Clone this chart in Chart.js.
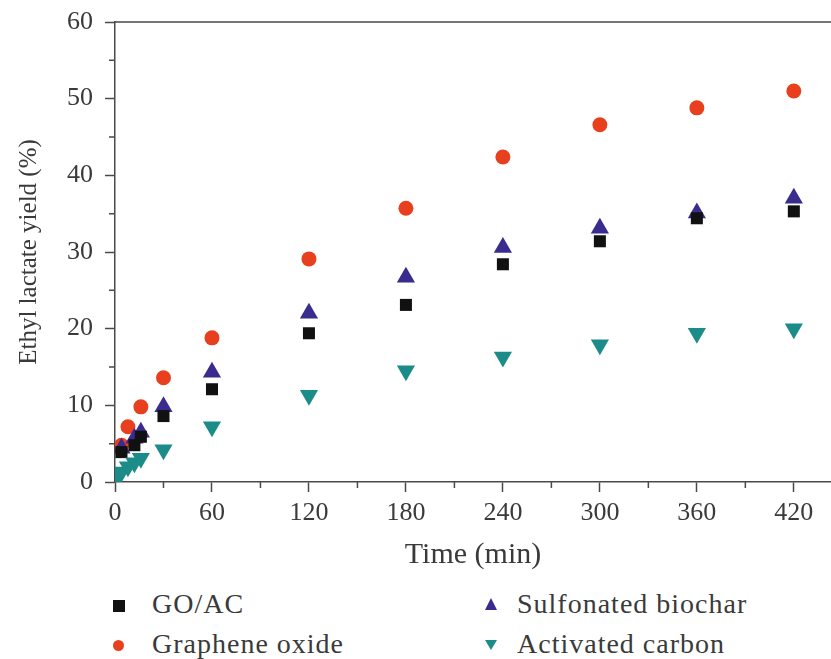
<!DOCTYPE html>
<html>
<head>
<meta charset="utf-8">
<script src="https://cdn.jsdelivr.net/npm/chart.js@4.4.1/dist/chart.umd.min.js"></script>
<style>
body { margin: 0; background: #fff; font-family: "Liberation Serif", serif; }
#wrap { position: relative; width: 831px; height: 659px; overflow: hidden; }
#c { position: absolute; left: 0; top: 0; }
.lbl { position: absolute; font-size: 28px; letter-spacing: 1px; color: #3a3a3a; line-height: 1; white-space: nowrap; }
.mk { position: absolute; }
</style>
</head>
<body>
<div id="wrap">
  <canvas id="c" width="831" height="573"></canvas>
  <div class="mk" style="left:113px;top:600px;width:12px;height:12px;background:#111;"></div>
  <div class="lbl" style="left:152px;top:590px;">GO/AC</div>
  <div class="mk" style="left:113px;top:640px;width:11px;height:11px;border-radius:50%;background:#e8401e;"></div>
  <div class="lbl" style="left:152px;top:630px;">Graphene oxide</div>
  <div class="mk" style="left:485px;top:598px;width:0;height:0;border-left:6px solid transparent;border-right:6px solid transparent;border-bottom:12px solid #3a2b8e;"></div>
  <div class="lbl" style="left:517px;top:590px;">Sulfonated biochar</div>
  <div class="mk" style="left:485px;top:640px;width:0;height:0;border-left:6px solid transparent;border-right:6px solid transparent;border-top:10px solid #1b8c88;"></div>
  <div class="lbl" style="left:517px;top:630px;">Activated carbon</div>
</div>
<script>
// reaction time (min) and ethyl lactate yield (%)
const times = [2, 4, 8, 12, 16, 30, 60, 120, 180, 240, 300, 360, 420];
const goac = [null, 3.9, null, 4.8, 5.9, 8.6, 12.1, 19.4, 23.1, 28.4, 31.4, 34.4, 35.3];
const grapheneOxide = [null, 4.8, 7.2, null, 9.8, 13.6, 18.8, 29.1, 35.7, 42.4, 46.6, 48.8, 51.0];
const sulfBiochar = [null, 4.4, null, 5.7, 6.5, 9.8, 14.3, 22.0, 26.7, 30.6, 33.1, 35.1, 37.0];
const actCarbon = [0.7, 1.3, 2.0, 2.5, 3.1, 4.2, 7.2, 11.3, 14.5, 16.3, 17.9, 19.4, 20.0];
const xTicks = [0, 60, 120, 180, 240, 300, 360, 420];
const yTicks = [0, 10, 20, 30, 40, 50, 60];

function pts(arr) {
    let out = [];
    for (let i = 0; i < times.length; i++) {
        if (arr[i] !== null) out.push({x: times[i], y: arr[i]});
    }
    return out;
}

const axisColor = '#4a4a4a';
const textColor = '#3a3a3a';

// top frame line and minor ticks
const framePlugin = {
    id: 'frame',
    afterDraw(chart) {
        const c = chart.ctx;
        const a = chart.chartArea;
        const xs = chart.scales.x, ys = chart.scales.y;
        c.save();
        c.strokeStyle = axisColor;
        c.lineWidth = 1.5;
        c.beginPath();
        c.moveTo(a.left, a.top);
        c.lineTo(a.right, a.top);
        for (let v = 30; v <= 420; v += 60) {
            const px = xs.getPixelForValue(v);
            c.moveTo(px, a.bottom);
            c.lineTo(px, a.bottom + 6);
        }
        for (let v = 5; v <= 55; v += 10) {
            const py = ys.getPixelForValue(v);
            c.moveTo(a.left, py);
            c.lineTo(a.left - 6, py);
        }
        c.stroke();
        c.restore();
    }
};

const ctx = document.getElementById('c').getContext('2d');
let myChart = new Chart(ctx, {
    type: 'scatter',
    data: {
        datasets: [{
            label: 'Activated carbon',
            data: pts(actCarbon),
            pointStyle: 'triangle',
            rotation: 180,
            pointRadius: 10.5,
            backgroundColor: '#1b8c88',
            borderWidth: 0
        }, {
            label: 'GO/AC',
            data: pts(goac),
            pointStyle: 'rect',
            pointRadius: 8.5,
            backgroundColor: '#111111',
            borderWidth: 0
        }, {
            label: 'Sulfonated biochar',
            data: pts(sulfBiochar),
            pointStyle: 'triangle',
            pointRadius: 10.5,
            backgroundColor: '#3a2b8e',
            borderWidth: 0
        }, {
            label: 'Graphene oxide',
            data: pts(grapheneOxide),
            pointStyle: 'circle',
            pointRadius: 7.5,
            backgroundColor: '#e8401e',
            borderWidth: 0
        }]
    },
    options: {
        responsive: false,
        animation: false,
        layout: { autoPadding: false, padding: { top: 22, right: 0, left: 0, bottom: 0 } },
        plugins: { legend: { display: false }, tooltip: { enabled: false } },
        scales: {
            x: {
                type: 'linear',
                min: 0,
                max: 443,
                afterBuildTicks: (s) => { s.ticks = xTicks.map(v => ({value: v})); },
                afterFit: (s) => { s.height = 91; s.paddingRight = 0; },
                ticks: {
                    color: textColor,
                    font: { family: 'Liberation Serif', size: 26 },
                    padding: 6,
                    maxRotation: 0
                },
                grid: { drawOnChartArea: false, tickLength: 10, tickColor: axisColor, tickWidth: 1.5 },
                border: { color: axisColor, width: 1.5 },
                title: {
                    display: true,
                    text: 'Time (min)',
                    color: textColor,
                    font: { family: 'Liberation Serif', size: 30 },
                    padding: { top: 4, bottom: 0 }
                }
            },
            y: {
                min: 0,
                max: 60,
                afterBuildTicks: (s) => { s.ticks = yTicks.map(v => ({value: v})); },
                afterFit: (s) => { s.width = 115; s.paddingTop = 0; },
                ticks: {
                    color: textColor,
                    font: { family: 'Liberation Serif', size: 26 },
                    padding: 12
                },
                grid: { drawOnChartArea: false, tickLength: 10, tickColor: axisColor, tickWidth: 1.5 },
                border: { color: axisColor, width: 1.5 },
                title: {
                    display: true,
                    text: 'Ethyl lactate yield (%)',
                    color: textColor,
                    font: { family: 'Liberation Serif', size: 25 },
                    padding: { top: 14, bottom: 0 }
                }
            }
        }
    },
    plugins: [framePlugin]
});
</script>
</body>
</html>
